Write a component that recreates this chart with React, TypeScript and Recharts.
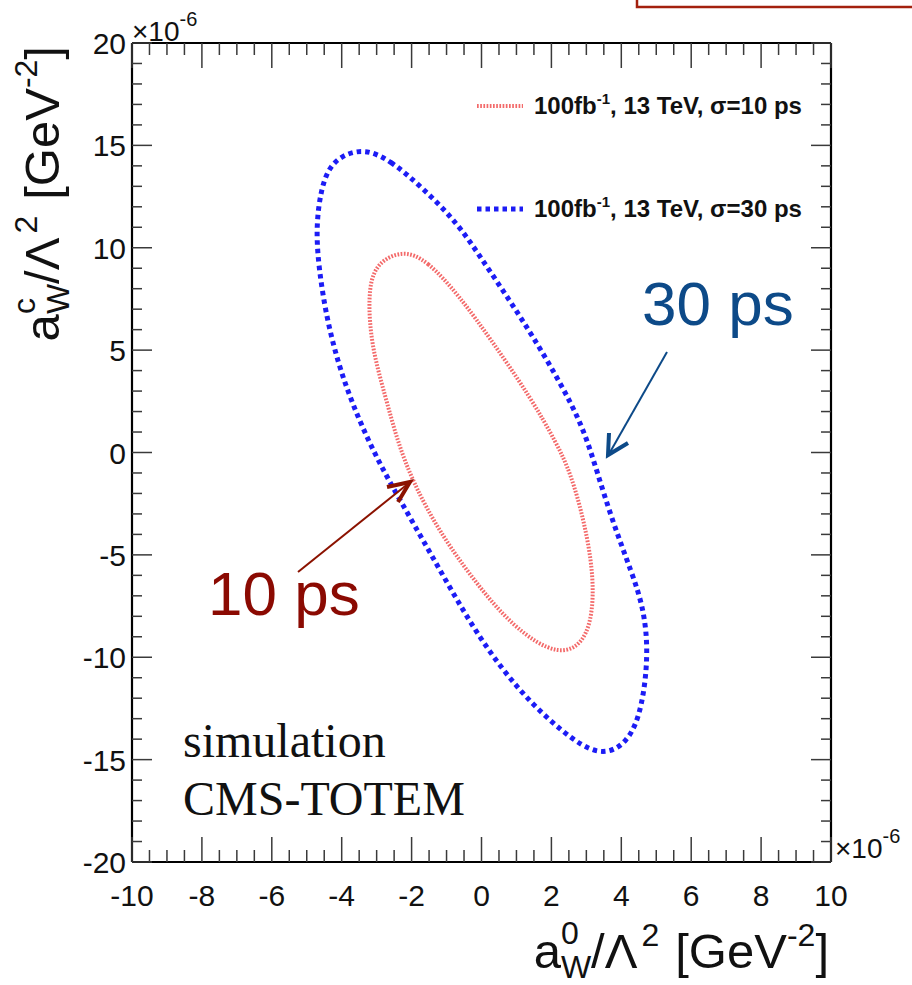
import { LineChart, Line, XAxis, YAxis } from "recharts";

// Ellipse contours (units of 1e-6 GeV^-2), clockwise from the top
const contour30ps = [
  { x: -3.42, y: 14.9 }, { x: -2.62, y: 14.3 }, { x: -1.67, y: 12.9 }, { x: -0.7, y: 11.23 },
  { x: -0.04, y: 9.57 }, { x: 0.73, y: 7.62 }, { x: 1.47, y: 5.67 }, { x: 2.25, y: 3.42 },
  { x: 2.9, y: 1.27 }, { x: 3.3, y: -0.9 }, { x: 3.76, y: -3.42 }, { x: 4.3, y: -5.86 },
  { x: 4.64, y: -7.6 }, { x: 4.78, y: -9.77 }, { x: 4.6, y: -12.5 }, { x: 4.2, y: -14.2 },
  { x: 3.39, y: -14.9 }, { x: 2.33, y: -13.7 }, { x: 1.1, y: -11.72 }, { x: -0.04, y: -9.13 },
  { x: -0.99, y: -6.35 }, { x: -1.96, y: -3.42 }, { x: -2.62, y: -1.47 }, { x: -3.19, y: 0.39 },
  { x: -3.71, y: 2.44 }, { x: -4.11, y: 4.4 }, { x: -4.44, y: 6.64 }, { x: -4.65, y: 8.94 },
  { x: -4.74, y: 10.89 }, { x: -4.6, y: 12.9 }, { x: -4.28, y: 14.3 },
];

const contour10ps = [
  { x: -2.27, y: 9.9 }, { x: -1.56, y: 9.4 }, { x: -0.62, y: 7.62 }, { x: 0.33, y: 5.37 },
  { x: 1.4, y: 2.7 }, { x: 2.15, y: 0.45 }, { x: 2.55, y: -1.0 }, { x: 2.95, y: -3.4 },
  { x: 3.25, y: -6.35 }, { x: 3.1, y: -9.1 }, { x: 2.25, y: -10.05 }, { x: 0.9, y: -8.55 },
  { x: -0.24, y: -6.2 }, { x: -1.19, y: -3.91 }, { x: -1.96, y: -1.47 }, { x: -2.42, y: 0.63 },
  { x: -2.75, y: 2.74 }, { x: -3.15, y: 5.18 }, { x: -3.25, y: 7.62 }, { x: -3.07, y: 9.2 },
];

const xMajorTicks = [-10, -8, -6, -4, -2, 0, 2, 4, 6, 8, 10];
const yMajorTicks = [-20, -15, -10, -5, 0, 5, 10, 15, 20];

const legendItems = [
  { sigma: "10", color: "#f36a6a", width: 4, dash: "1.7 1.5" },
  { sigma: "30", color: "#1c1cf5", width: 5, dash: "4.5 4" },
];

// minor ticks: 0.5 on x, 1 on y
const xTicks: number[] = [];
for (let i = -20; i <= 20; i++) xTicks.push(i / 2);
const yTicks: number[] = [];
for (let i = -20; i <= 20; i++) yTicks.push(i);

const W = 912;
const H = 985;
const SANS = "'Liberation Sans', Arial, sans-serif";
const SERIF = "'Liberation Serif', 'Times New Roman', serif";
const TICK = "#3a3a3a";

const isMajor = (v: number, list: number[]) => list.some((m) => Math.abs(m - v) < 1e-6);

const BottomTick = (props: any) => {
  const { x, y, payload } = props;
  const major = isMajor(payload.value, xMajorTicks);
  return (
    <g>
      <line x1={x} y1={y} x2={x} y2={y - (major ? 25 : 12)} stroke={TICK} strokeWidth={1.5} />
      {major && (
        <text x={x} y={y + 44} textAnchor="middle" fontSize={30} fontFamily={SANS} fill="#111">
          {payload.value}
        </text>
      )}
    </g>
  );
};

const TopTick = (props: any) => {
  const { x, y, payload } = props;
  const major = isMajor(payload.value, xMajorTicks);
  return <line x1={x} y1={y} x2={x} y2={y + (major ? 25 : 12)} stroke={TICK} strokeWidth={1.5} />;
};

const LeftTick = (props: any) => {
  const { x, y, payload } = props;
  const major = isMajor(payload.value, yMajorTicks);
  return (
    <g>
      <line x1={x} y1={y} x2={x + (major ? 20 : 10)} y2={y} stroke={TICK} strokeWidth={1.5} />
      {major && (
        <text x={x - 6} y={y + 11} textAnchor="end" fontSize={30} fontFamily={SANS} fill="#111">
          {payload.value}
        </text>
      )}
    </g>
  );
};

const RightTick = (props: any) => {
  const { x, y, payload } = props;
  const major = isMajor(payload.value, yMajorTicks);
  return <line x1={x} y1={y} x2={x - (major ? 20 : 10)} y2={y} stroke={TICK} strokeWidth={1.5} />;
};

const AxisTitle = ({ sup }: { sup: string }) => (
  <>
    <tspan>a</tspan>
    <tspan fontSize={32} dy={-24}>{sup}</tspan>
    <tspan fontSize={32} dx={sup === "0" ? -18 : -16} dy={34}>W</tspan>
    <tspan dy={-10}>/Λ</tspan>
    <tspan fontSize={32} dx={4} dy={-22}>2</tspan>
    <tspan dx={16} dy={22}>[GeV</tspan>
    <tspan fontSize={32} dy={-22}>-2</tspan>
    <tspan dy={22}>]</tspan>
  </>
);

export default function App() {
  const axisLine = { stroke: "#000", strokeWidth: 2.2 };
  return (
    <div style={{ position: "absolute", left: 0, top: 0, width: W, height: H, background: "#fff" }}>
      <LineChart width={W} height={H} margin={{ top: 42, right: 80, bottom: 122, left: 131 }}>
        <XAxis
          xAxisId="b"
          type="number"
          dataKey="x"
          domain={[-10, 10]}
          ticks={xTicks}
          interval={0}
          height={1}
          tickSize={0}
          tickMargin={0}
          tickLine={false}
          axisLine={axisLine}
          tick={<BottomTick />}
          allowDataOverflow
        />
        <XAxis
          xAxisId="t"
          orientation="top"
          type="number"
          dataKey="x"
          domain={[-10, 10]}
          ticks={xTicks}
          interval={0}
          height={1}
          tickSize={0}
          tickMargin={0}
          tickLine={false}
          axisLine={axisLine}
          tick={<TopTick />}
          allowDataOverflow
        />
        <YAxis
          yAxisId="l"
          type="number"
          domain={[-20, 20]}
          ticks={yTicks}
          interval={0}
          width={1}
          tickSize={0}
          tickMargin={0}
          tickLine={false}
          axisLine={axisLine}
          tick={<LeftTick />}
          allowDataOverflow
        />
        <YAxis
          yAxisId="r"
          orientation="right"
          type="number"
          domain={[-20, 20]}
          ticks={yTicks}
          interval={0}
          width={1}
          tickSize={0}
          tickMargin={0}
          tickLine={false}
          axisLine={axisLine}
          tick={<RightTick />}
          allowDataOverflow
        />
        <Line
          xAxisId="b"
          yAxisId="l"
          data={contour30ps}
          dataKey="y"
          type="basisClosed"
          dot={false}
          activeDot={false}
          stroke={legendItems[1].color}
          strokeWidth={legendItems[1].width}
          strokeDasharray={legendItems[1].dash}
          isAnimationActive={false}
        />
        <Line
          xAxisId="b"
          yAxisId="l"
          data={contour10ps}
          dataKey="y"
          type="basisClosed"
          dot={false}
          activeDot={false}
          stroke={legendItems[0].color}
          strokeWidth={legendItems[0].width}
          strokeDasharray={legendItems[0].dash}
          isAnimationActive={false}
        />
      </LineChart>

      <svg
        width={W}
        height={H}
        style={{ position: "absolute", left: 0, top: 0, pointerEvents: "none" }}
      >
        {/* cut-off box at the top right */}
        <rect x={637} y={-20} width={300} height={27} fill="none" stroke="#a3200e" strokeWidth={2.5} />

        {/* exponent labels */}
        <text x={132} y={41} fontSize={28} fontFamily={SANS} fill="#111">
          ×10<tspan fontSize={20} dy={-15}>-6</tspan>
        </text>
        <text x={835} y={858} fontSize={28} fontFamily={SANS} fill="#111">
          ×10<tspan fontSize={20} dy={-15}>-6</tspan>
        </text>

        {/* legend */}
        {legendItems.map((it, i) => (
          <g key={it.sigma}>
            <line
              x1={477}
              x2={523}
              y1={106 + i * 103}
              y2={106 + i * 103}
              stroke={it.color}
              strokeWidth={it.width}
              strokeDasharray={it.dash}
            />
            <text x={534} y={114 + i * 103} fontSize={24} fontWeight="bold" fontFamily={SANS} fill="#111">
              100fb<tspan fontSize={15} dy={-10}>-1</tspan>
              <tspan dy={10}>, 13 TeV, σ={it.sigma} ps</tspan>
            </text>
          </g>
        ))}

        {/* axis titles */}
        <text x={829} y={968} textAnchor="end" fontSize={49} fontFamily={SANS} fill="#111">
          <AxisTitle sup="0" />
        </text>
        <text
          transform="translate(59,46) rotate(-90)"
          textAnchor="end"
          fontSize={49}
          fontFamily={SANS}
          fill="#111"
        >
          <AxisTitle sup="c" />
        </text>

        {/* annotations */}
        <text x={642} y={325} fontSize={62} fontFamily={SANS} fill="#0d4a88">30 ps</text>
        <line x1={667} y1={352} x2={609} y2={454} stroke="#0d4a88" strokeWidth={2} />
        <polyline points="609,433 608,455 628,443" fill="none" stroke="#0d4a88" strokeWidth={4} />

        <text x={208} y={615} fontSize={62} fontFamily={SANS} fill="#8b0a02">10 ps</text>
        <line x1={298} y1={572} x2={409} y2={483} stroke="#8b1200" strokeWidth={2} />
        <polyline points="387,487 410,482 398,502" fill="none" stroke="#8b1200" strokeWidth={4} />

        <text x={183} y={757} fontSize={48} fontFamily={SERIF} fill="#111">simulation</text>
        <text x={183} y={815} fontSize={48} fontFamily={SERIF} fill="#111">CMS-TOTEM</text>
      </svg>
    </div>
  );
}
